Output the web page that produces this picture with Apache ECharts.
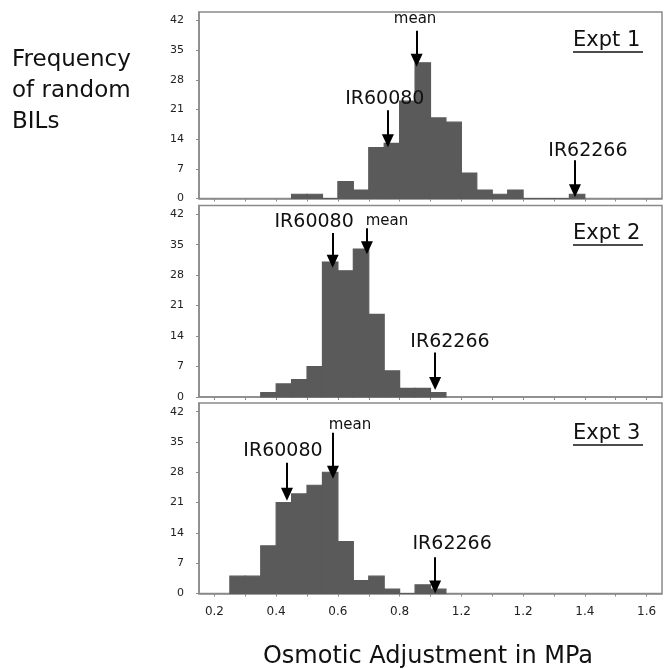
<!DOCTYPE html>
<html>
<head>
<meta charset="utf-8">
<script src="https://cdn.jsdelivr.net/npm/echarts@6/dist/echarts.min.js"></script>
<style>
  html, body { margin: 0; padding: 0; background: #fff; }
  #chart { width: 664px; height: 669px; }
</style>
</head>
<body>
<div id="chart"></div>
<script>
let myChart = echarts.init(document.getElementById('chart'));

// histogram bins (left edge, MPa) and counts, one pair per experiment
const bins1 = [0.45, 0.50, 0.55, 0.60, 0.65, 0.70, 0.75, 0.80, 0.85, 0.90, 0.95, 1.00, 1.05, 1.10, 1.15, 1.20, 1.25, 1.30, 1.35];
const counts1 = [1, 1, 0, 4, 2, 12, 13, 23, 32, 19, 18, 6, 2, 1, 2, 0, 0, 0, 1];

const bins2 = [0.35, 0.40, 0.45, 0.50, 0.55, 0.60, 0.65, 0.70, 0.75, 0.80, 0.85, 0.90];
const counts2 = [1, 3, 4, 7, 31, 29, 34, 19, 6, 2, 2, 1];

const bins3 = [0.25, 0.30, 0.35, 0.40, 0.45, 0.50, 0.55, 0.60, 0.65, 0.70, 0.75, 0.80, 0.85, 0.90];
const counts3 = [4, 4, 11, 21, 23, 25, 28, 12, 3, 4, 1, 0, 2, 1];

const binWidth = 0.05;

// axis ticks and labels (labels as printed in the figure)
const xTickValues = [0.2, 0.3, 0.4, 0.5, 0.6, 0.7, 0.8, 0.9, 1.0, 1.1, 1.2, 1.3, 1.4, 1.5, 1.6];
const xLabelValues = [0.2, 0.4, 0.6, 0.8, 1.0, 1.2, 1.4, 1.6];
const xLabelText = ['0.2', '0.4', '0.6', '0.8', '1.2', '1.2', '1.4', '1.6'];
const yTickValues = [0, 7, 14, 21, 28, 35, 42];

const panelNames = ['Expt 1', 'Expt 2', 'Expt 3'];

// arrows: [label, label x, label y, arrow x, arrow start y, arrow tip y]
const notes1 = [
    ['mean', 0.850, 42.4, 0.855, 39.6, 32.6],
    ['IR60080', 0.752, 23.4, 0.762, 20.8, 13.6],
    ['IR62266', 1.410, 11.3, 1.368, 9.0, 1.8]
];
const notes2 = [
    ['IR60080', 0.523, 40.3, 0.583, 37.7, 31.2],
    ['mean', 0.759, 40.5, 0.694, 38.8, 34.3],
    ['IR62266', 0.963, 12.7, 0.915, 10.2, 3.1]
];
const notes3 = [
    ['mean', 0.639, 39.0, 0.584, 37.1, 28.0],
    ['IR60080', 0.422, 32.9, 0.435, 30.2, 22.9],
    ['IR62266', 0.970, 11.4, 0.915, 8.4, 1.5]
];

const barColor = '#5a5a5a';
const font = 'DejaVu Sans';

const grids = [
    {left: 199, top: 12, width: 463, height: 186.5},
    {left: 199, top: 205.5, width: 463, height: 191.5},
    {left: 199, top: 403, width: 463, height: 190.5}
];

function renderBar(params, api) {
    let x0 = api.value(0);
    let p0 = api.coord([x0, api.value(1)]);
    let p1 = api.coord([x0 + binWidth, 0]);
    return {
        type: 'rect',
        shape: {x: p0[0], y: p0[1], width: p1[0] - p0[0], height: p1[1] - p0[1]},
        style: {fill: barColor, stroke: barColor, lineWidth: 1.2}
    };
}

function xLabel(v) {
    let i = xLabelValues.findIndex(a => Math.abs(a - v) < 1e-6);
    return i < 0 ? '' : xLabelText[i];
}

let xAxes = grids.map((g, i) => ({
    type: 'value',
    gridIndex: i,
    min: 0.15,
    max: 1.65,
    splitLine: {show: false},
    axisLine: {show: true, lineStyle: {color: '#8a8a8a', width: 1.5}},
    axisTick: {show: true, customValues: xTickValues, length: 3, lineStyle: {color: '#8a8a8a'}},
    axisLabel: {
        show: i === 2,
        customValues: xLabelValues,
        formatter: xLabel,
        margin: 12,
        fontFamily: font,
        fontSize: 12,
        color: '#222'
    }
}));

let yAxes = grids.map((g, i) => ({
    type: 'value',
    gridIndex: i,
    min: 0,
    max: 44,
    splitLine: {show: false},
    axisLine: {show: true, lineStyle: {color: '#8a8a8a', width: 1.5}},
    axisTick: {show: true, customValues: yTickValues, length: 3, lineStyle: {color: '#8a8a8a'}},
    axisLabel: {
        customValues: yTickValues,
        margin: 15,
        fontFamily: font,
        fontSize: 11,
        color: '#222'
    }
}));

function histSeries(bins, counts, i) {
    return {
        type: 'custom',
        xAxisIndex: i,
        yAxisIndex: i,
        renderItem: renderBar,
        silent: true,
        data: bins.map((b, k) => [b, counts[k]])
    };
}

function noteSeries(notes, i) {
    return {
        type: 'scatter',
        xAxisIndex: i,
        yAxisIndex: i,
        data: [],
        silent: true,
        markLine: {
            silent: true,
            animation: false,
            symbol: ['none', 'triangle'],
            symbolSize: [12, 13],
            symbolRotate: 180,
            lineStyle: {color: '#000', width: 2, type: 'solid'},
            label: {show: false},
            emphasis: {disabled: true},
            data: notes.map(n => [
                {coord: [n[3], n[4]]},
                {coord: [n[3], n[5]]}
            ])
        },
        markPoint: {
            silent: true,
            animation: false,
            symbol: 'circle',
            symbolSize: 0,
            label: {
                show: true,
                position: 'inside',
                fontFamily: font,
                color: '#111'
            },
            data: notes.map(n => ({
                coord: [n[1], n[2]],
                label: {formatter: n[0], fontSize: n[0] === 'mean' ? 15 : 19}
            }))
        }
    };
}

let graphics = [
    {
        type: 'text', left: 12, top: 45,
        style: {text: 'Frequency\nof random\nBILs', fontFamily: font, fontSize: 23, lineHeight: 31, fill: '#111'}
    },
    {
        type: 'text', x: 428, y: 657,
        style: {text: 'Osmotic Adjustment in MPa', align: 'center', verticalAlign: 'middle', fontFamily: font, fontSize: 24, fill: '#111'}
    }
];
const nameTops = [30, 223, 423];
panelNames.forEach((name, i) => {
    graphics.push({
        type: 'text', left: 573, top: nameTops[i],
        style: {text: name, fontFamily: font, fontSize: 21, fill: '#111'}
    });
    graphics.push({
        type: 'line',
        shape: {x1: 573, y1: nameTops[i] + 22, x2: 643, y2: nameTops[i] + 22},
        style: {stroke: '#111', lineWidth: 1.5}
    });
});

let option = {
    animation: false,
    backgroundColor: '#fff',
    grid: grids.map(g => Object.assign({show: true, borderColor: '#8a8a8a', borderWidth: 1.5, backgroundColor: '#fff'}, g)),
    xAxis: xAxes,
    yAxis: yAxes,
    graphic: graphics,
    series: [
        histSeries(bins1, counts1, 0),
        histSeries(bins2, counts2, 1),
        histSeries(bins3, counts3, 2),
        noteSeries(notes1, 0),
        noteSeries(notes2, 1),
        noteSeries(notes3, 2)
    ]
};

myChart.setOption(option);
</script>
</body>
</html>
